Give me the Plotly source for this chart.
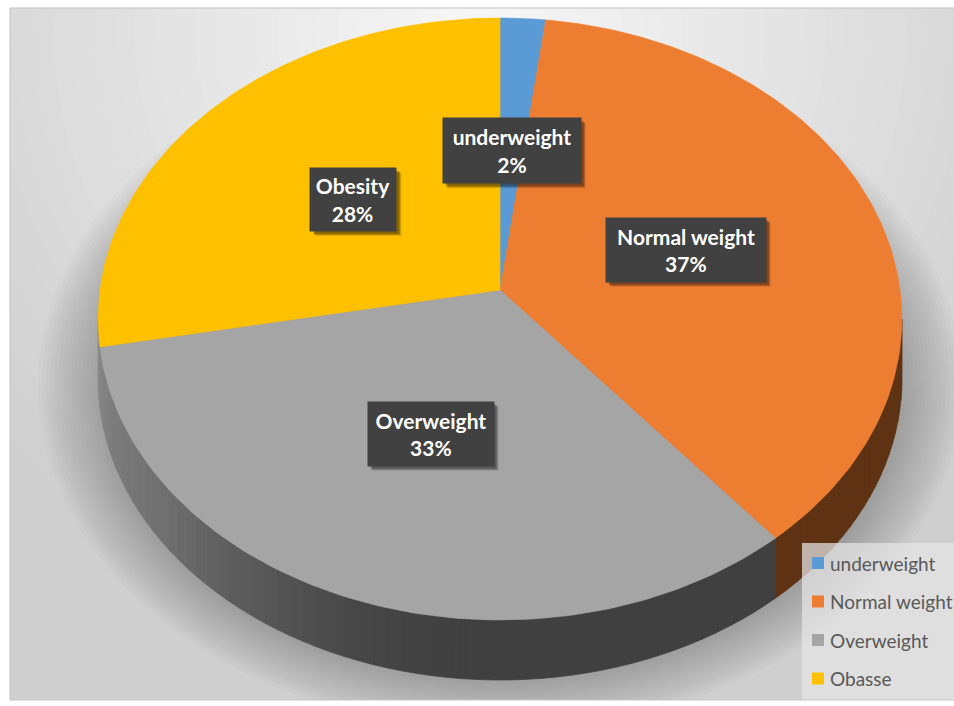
import numpy as np
import plotly.graph_objects as go

# ---------------- data ----------------
categories = ["underweight", "Normal weight", "Overweight", "Obesity"]
legend_labels = ["underweight", "Normal weight", "Overweight", "Obasse"]
percent_values = [2, 37, 33, 28]

# ---------------- styles ----------------
top_colors = ["#5B9BD5", "#ED7D31", "#A5A5A5", "#FFC000"]
side_base = [(46, 77, 107), (94, 50, 19), None, None]   # None -> shaded grey
label_box_sizes = [(138, 65), (160, 64), (126, 64), (86, 63)]
FONT = "Lato"

# pie geometry in pixel space (perspective projected disc)
CX, CY = 500, 290
RX, RY = 400, 298.2
K = 0.0963
DEPTH = 60
LABEL_FRAC = 0.49


def proj(theta_deg, f=1.0):
    th = np.radians(theta_deg)
    u = f * np.sin(th)
    v = f * np.cos(th)
    d = 1 + K * v
    return CX + RX * u / d, CY - RY * v / d


def grey_side(theta):
    return int(np.interp(theta, [95, 185, 200, 215, 232, 250, 265],
                         [64, 64, 72, 90, 112, 125, 140]))


fig = go.Figure()

# ---------------- background gradient ----------------
shapes = []
n = 32
for i in range(n):
    s = 1 - i / n
    c = int(207 + (248 - 207) * (1 - s))
    shapes.append(dict(type="circle", xref="x", yref="y", layer="below",
                       x0=480 - 650 * s, x1=480 + 650 * s,
                       y0=30 - 640 * s, y1=30 + 640 * s,
                       fillcolor=f"rgb({c},{c},{c})", line=dict(width=0)))
# soft floor shadow around the pie base
for i in range(16):
    rx = 462 - i * 4
    ry = 345 - i * 3.5
    shapes.append(dict(type="circle", xref="x", yref="y", layer="below",
                       x0=500 - rx, x1=500 + rx, y0=385 - ry, y1=385 + ry,
                       fillcolor="rgba(90,90,90,0.03)", line=dict(width=0)))

# ---------------- slice angles ----------------
total = sum(percent_values)
bounds = np.concatenate([[0], np.cumsum(percent_values)]) / total * 360.0
th_min = np.degrees(np.arccos(-K))
th_max = 360 - th_min

# ---------------- side walls ----------------
for i, cat in enumerate(categories):
    a1, a2 = max(bounds[i], th_min), min(bounds[i + 1], th_max)
    if a2 <= a1:
        continue
    steps = np.linspace(a1, a2, max(2, int((a2 - a1) / 2) + 1))
    for s0, s1 in zip(steps[:-1], steps[1:]):
        ts = np.linspace(s0, s1, 4)
        xs, ys = proj(ts)
        px = list(xs) + list(xs[::-1]) + [xs[0]]
        py = list(ys) + list(ys[::-1] + DEPTH) + [ys[0]]
        if side_base[i] is None:
            g = grey_side((s0 + s1) / 2)
            col = f"rgb({g},{g},{g})"
        else:
            r, gg, b = side_base[i]
            col = f"rgb({r},{gg},{b})"
        fig.add_trace(go.Scatter(x=px, y=py, mode="lines", fill="toself",
                                 fillcolor=col, line=dict(color=col, width=0.8),
                                 hoverinfo="skip", showlegend=False))

# ---------------- top face ----------------
for i, cat in enumerate(categories):
    ts = np.linspace(bounds[i], bounds[i + 1], max(3, int(bounds[i + 1] - bounds[i]) + 2))
    xs, ys = proj(ts)
    px = [CX] + list(xs) + [CX]
    py = [CY] + list(ys) + [CY]
    fig.add_trace(go.Scatter(x=px, y=py, mode="lines", fill="toself",
                             fillcolor=top_colors[i],
                             line=dict(color=top_colors[i], width=0.6),
                             name=cat, hoverinfo="name", showlegend=False))

# ---------------- data labels ----------------
annotations = []
for i, cat in enumerate(categories):
    mid = (bounds[i] + bounds[i + 1]) / 2
    lx, ly = proj(mid, LABEL_FRAC)
    w, h = label_box_sizes[i]
    for off, op in [(5, 0.12), (4, 0.18), (3, 0.25)]:
        shapes.append(dict(type="rect", xref="x", yref="y", layer="above",
                           x0=lx - w / 2 + off, x1=lx + w / 2 + off,
                           y0=ly - h / 2 + off, y1=ly + h / 2 + off,
                           fillcolor=f"rgba(0,0,0,{op})", line=dict(width=0)))
    annotations.append(dict(x=lx, y=ly, xref="x", yref="y", showarrow=False,
                            text=f"{cat}<br>{percent_values[i]}%",
                            width=w, height=h, borderpad=0,
                            bgcolor="#414141", align="center", valign="middle",
                            font=dict(family=FONT, size=21, color="white", weight="bold")))

# ---------------- legend ----------------
shapes.append(dict(type="rect", xref="x", yref="y", layer="above",
                   x0=802, x1=960, y0=543, y1=702,
                   fillcolor="rgba(228,228,228,0.72)", line=dict(width=0)))
leg_y0, leg_dy = 563, 38.5
for i, lab in enumerate(legend_labels):
    yc = leg_y0 + i * leg_dy
    shapes.append(dict(type="rect", xref="x", yref="y", layer="above",
                       x0=812, x1=824, y0=yc - 6, y1=yc + 6,
                       fillcolor=top_colors[i], line=dict(width=0)))
    annotations.append(dict(x=828, y=yc, xref="x", yref="y", showarrow=False,
                            xanchor="left", yanchor="middle", text=lab,
                            font=dict(family=FONT, size=19, color="#595959")))

# chart border
shapes.append(dict(type="rect", xref="paper", yref="paper", x0=0, x1=1.01, y0=0, y1=1,
                   line=dict(color="#c4c4c4", width=1), layer="above"))

fig.update_layout(
    width=954, height=706,
    margin=dict(l=10, r=0, t=8, b=6),
    paper_bgcolor="white", plot_bgcolor="#cfcfcf",
    xaxis=dict(range=[10, 954], visible=False, fixedrange=True),
    yaxis=dict(range=[700, 8], visible=False, fixedrange=True),
    shapes=shapes, annotations=annotations,
    showlegend=False,
)

fig.write_html("out.html", config={"displayModeBar": False},
               post_script="document.body.style.margin='0';document.body.style.overflow='hidden';")
